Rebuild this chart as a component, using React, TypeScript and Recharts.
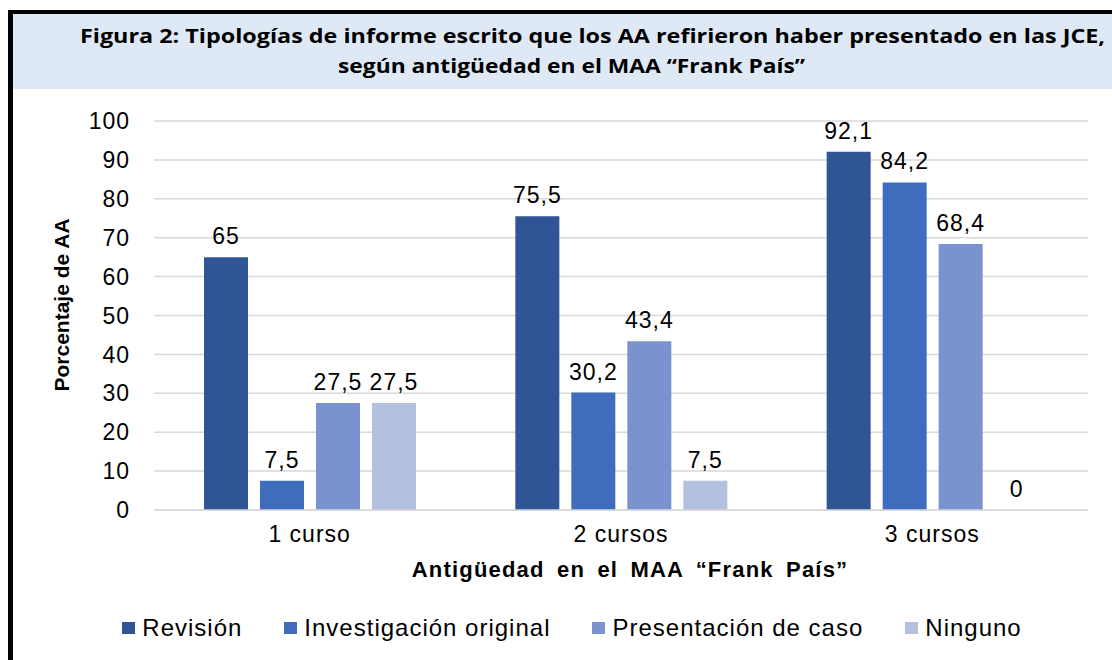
import React from "react";
import { BarChart, Bar, XAxis, YAxis, CartesianGrid, Legend, LabelList, Label } from "recharts";

const categories = ["1 curso", "2 cursos", "3 cursos"];
const revision = [65, 75.5, 92.1];
const investigacion = [7.5, 30.2, 84.2];
const presentacion = [27.5, 43.4, 68.4];
const ninguno = [27.5, 7.5, 0];
const yTicks = [0, 10, 20, 30, 40, 50, 60, 70, 80, 90, 100];

const seriesNames = ["Revisión", "Investigación original", "Presentación de caso", "Ninguno"];
const seriesColors = ["#2F5597", "#3F6CBD", "#7A93CF", "#B4C0E0"];

const data = categories.map((c, i) => ({
  cat: c,
  s0: revision[i],
  s1: investigacion[i],
  s2: presentacion[i],
  s3: ninguno[i],
}));

const fmt = (v: any) => String(v).replace(".", ",");

const W = 1112;
const H = 660;
const FONT = "'Liberation Sans', Arial, Helvetica, sans-serif";

const renderLegend = () => (
  <div style={{ display: "flex", justifyContent: "center", alignItems: "center", fontFamily: FONT, height: 26 }}>
    {seriesNames.map((n, i) => (
      <div key={n} style={{ display: "flex", alignItems: "center", marginRight: i < seriesNames.length - 1 ? 42 : 0 }}>
        <svg width={13} height={12} style={{ marginRight: 7 }}>
          <rect x={0} y={0} width={13} height={12} fill={seriesColors[i]} />
        </svg>
        <span style={{ color: "#000", fontSize: 24, letterSpacing: 1, lineHeight: "26px" }}>{n}</span>
      </div>
    ))}
  </div>
);

export default function App() {
  return (
    <div style={{ position: "absolute", left: 0, top: 0, width: W, height: H, background: "#fff", overflow: "hidden", fontFamily: FONT }}>
      <svg width={W} height={H} style={{ position: "absolute", left: 0, top: 0 }}>
        <rect x={13} y={13} width={W - 13} height={76} fill="#DFE8F5" />
        <rect x={8} y={10} width={W - 8} height={4} fill="#000" />
        <rect x={8} y={10} width={5} height={H - 10} fill="#000" />
        <text
          x={80}
          y={43}
          textLength={1025}
          lengthAdjust="spacingAndGlyphs"
          fontFamily="'Open Sans', 'Liberation Sans', sans-serif"
          fontWeight="bold"
          fontSize={20}
          fill="#000"
        >
          Figura 2: Tipologías de informe escrito que los AA refirieron haber presentado en las JCE,
        </text>
        <text
          x={338}
          y={73}
          textLength={467}
          lengthAdjust="spacingAndGlyphs"
          fontFamily="'Open Sans', 'Liberation Sans', sans-serif"
          fontWeight="bold"
          fontSize={20}
          fill="#000"
        >
          según antigüedad en el MAA “Frank País”
        </text>
      </svg>
      <div style={{ position: "absolute", left: 0, top: 0 }}>
        <BarChart
          width={W}
          height={H}
          data={data}
          margin={{ top: 121, right: 24, bottom: 94, left: 0 }}
          barSize={44}
          barGap={12}
        >
          <CartesianGrid vertical={false} stroke="#D9D9D9" strokeWidth={1.5} />
          <XAxis
            dataKey="cat"
            height={30}
            axisLine={{ stroke: "#D9D9D9", strokeWidth: 1.5 }}
            tickLine={false}
            tickMargin={10}
            tick={{ fill: "#000", fontSize: 23, letterSpacing: 1, fontFamily: FONT }}
            interval={0}
          >
            <Label
              content={() => (
                <text
                  x={630}
                  y={577}
                  textAnchor="middle"
                  fontFamily={FONT}
                  fontWeight="bold"
                  fontSize={22}
                  letterSpacing={1.2}
                  wordSpacing={5}
                  fill="#000"
                >
                  Antigüedad en el MAA “Frank País”
                </text>
              )}
            />
          </XAxis>
          <YAxis
            width={154}
            domain={[0, 100]}
            ticks={yTicks}
            interval={0}
            axisLine={false}
            tickLine={false}
            tickMargin={18}
            tick={{ fill: "#000", fontSize: 23, letterSpacing: 1, fontFamily: FONT }}
          >
            <Label
              content={() => (
                <text
                  transform="translate(69,305) rotate(-90)"
                  textAnchor="middle"
                  fontFamily={FONT}
                  fontWeight="bold"
                  fontSize={21}
                  fill="#000"
                >
                  Porcentaje de AA
                </text>
              )}
            />
          </YAxis>
          <Legend
            content={renderLegend}
            wrapperStyle={{ position: "absolute", top: 615, left: 16, width: W, height: 26 }}
          />
          {seriesNames.map((name, i) => (
            <Bar
              key={name}
              dataKey={`s${i}`}
              name={name}
              fill={seriesColors[i]}
              minPointSize={0.01}
              isAnimationActive={false}
            >
              <LabelList
                dataKey={`s${i}`}
                position="top"
                offset={13}
                formatter={fmt}
                style={{ fill: "#000", fontSize: 23, letterSpacing: 1, fontFamily: FONT }}
              />
            </Bar>
          ))}
        </BarChart>
      </div>
    </div>
  );
}
